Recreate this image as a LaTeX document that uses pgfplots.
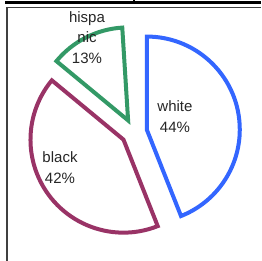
\documentclass[border=0pt]{standalone}
\usepackage{pgfplots}
\pgfplotsset{compat=1.18}
\usepackage{fontspec}
\setmainfont{Liberation Sans}
\definecolor{cwhite}{RGB}{51,102,255}
\definecolor{cblack}{RGB}{153,51,102}
\definecolor{chisp}{RGB}{51,153,102}
\begin{document}
\begin{tikzpicture}
\useasboundingbox (0,0) rectangle (261pt,261pt);
% data (percent)
\def\vW{44}\def\vB{42}\def\vH{13}
\def\cx{134}\def\cy{129}\def\R{93pt}\def\ex{13}
\pgfmathsetmacro\aW{90}
\pgfmathsetmacro\bW{\aW-\vW*3.6}
\pgfmathsetmacro\bB{\bW-\vB*3.6}
\pgfmathsetmacro\bH{\bB-\vH*3.6}
\pgfmathsetmacro\mW{(\aW+\bW)/2}
\pgfmathsetmacro\mB{(\bW+\bB)/2}
\pgfmathsetmacro\mH{(\bB+\bH)/2}
\begin{axis}[at={(0,0)}, anchor=south west, width=261pt, height=261pt,
  scale only axis, xmin=0, xmax=261, ymin=0, ymax=261, hide axis, clip=false]
% frame
\draw[line width=3pt] (axis cs:5,258.5) -- (axis cs:261,258.5);
\draw[line width=1.5pt] (axis cs:134,261) -- (axis cs:134,258);
\draw[line width=1.2pt, black!75] (axis cs:7,0) -- (axis cs:7,253.5) -- (axis cs:261,253.5);
% wedges
\draw[cwhite, line width=4pt, line join=miter]
  (axis cs:{\cx+\ex*cos(\mW)},{\cy+\ex*sin(\mW)}) -- ++(\aW:\R)
  arc[start angle=\aW, end angle=\bW, radius=\R] -- cycle;
\draw[cblack, line width=4pt, line join=miter]
  (axis cs:{\cx+\ex*cos(\mB)},{\cy+\ex*sin(\mB)}) -- ++(\bW:\R)
  arc[start angle=\bW, end angle=\bB, radius=\R] -- cycle;
\draw[chisp, line width=4pt, line join=miter]
  (axis cs:{\cx+\ex*cos(\mH)},{\cy+\ex*sin(\mH)}) -- ++(\bB:\R)
  arc[start angle=\bB, end angle=\bH, radius=\R] -- cycle;
% labels
\node[align=center, font=\fontsize{15}{20.5}\selectfont, text=black!85] at (axis cs:175,144.5) {white\\44\%};
\node[align=center, font=\fontsize{15}{20.5}\selectfont, text=black!85] at (axis cs:60,93.5) {black\\42\%};
\node[align=center, font=\fontsize{15}{20.5}\selectfont, text=black!85] at (axis cs:87,223.5) {hispa\\nic\\13\%};
\end{axis}
\end{tikzpicture}
\end{document}
